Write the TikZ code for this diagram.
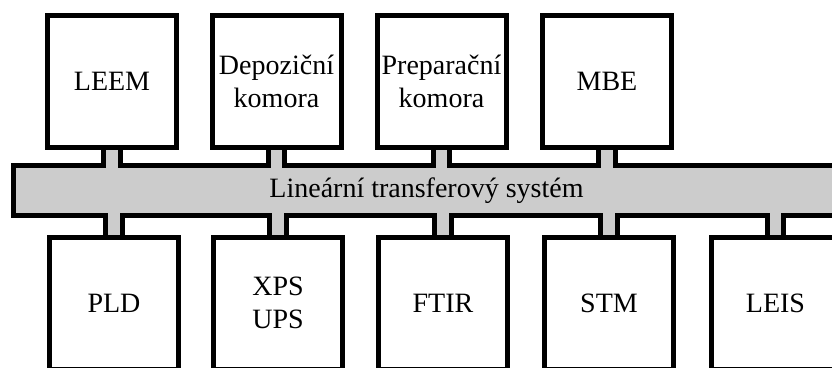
\documentclass[tikz,border=0pt]{standalone}
\usepackage{fontspec}
\setmainfont{Liberation Serif}
\begin{document}
\begin{tikzpicture}[x=1pt,y=-1pt, line width=5pt,
  every node/.style={font=\fontsize{28}{33}\selectfont, outer sep=0pt},
  chamber/.style={draw,fill=white,minimum width=129pt,minimum height=132pt,align=center,inner sep=1pt},
  rail/.style={draw,fill=railgray,minimum width=826pt,minimum height=50.5pt},
  stubfill/.style={fill=railgray,draw=none}]
\definecolor{railgray}{HTML}{CCCCCC}
\useasboundingbox (0,0) rectangle (832,367);
\clip (0,0) rectangle (832,367);
% transfer line
\node[rail] (lts) at (426.5,190.25) {Lineární transferový systém};
% upper chambers
\node[chamber] (leem) at (112,81.5) {LEEM};
\node[chamber] (depo) at (276.5,81.5) {Depoziční\\komora};
\node[chamber] (prep) at (441.5,81.5) {Preparační\\komora};
\node[chamber] (mbe) at (607,81.5) {MBE};
% lower chambers
\node[chamber] (pld) at (114,303) {PLD};
\node[chamber] (xps) at (278,303) {XPS\\UPS};
\node[chamber] (ftir) at (443,303) {FTIR};
\node[chamber] (stm) at (609,303) {STM};
\node[chamber] (leis) at (775.5,303) {LEIS};
% stubs to the transfer line
\foreach \ch in {leem,depo,prep,mbe} {
  \fill[stubfill] ([xshift=-6pt,yshift=-2.5pt]\ch.south) rectangle ([xshift=6pt,yshift=-2.5pt]\ch.south |- lts.north);
  \draw ([xshift=-8.2pt,yshift=-2.5pt]\ch.south) -- ([xshift=-8.2pt,yshift=-2.5pt]\ch.south |- lts.north);
  \draw ([xshift=8.2pt,yshift=-2.5pt]\ch.south) -- ([xshift=8.2pt,yshift=-2.5pt]\ch.south |- lts.north);
}
\foreach \ch in {pld,xps,ftir,stm,leis} {
  \fill[stubfill] ([xshift=-6pt,yshift=2.5pt]\ch.north) rectangle ([xshift=6pt,yshift=2.5pt]\ch.north |- lts.south);
  \draw ([xshift=-8.2pt,yshift=2.5pt]\ch.north) -- ([xshift=-8.2pt,yshift=2.5pt]\ch.north |- lts.south);
  \draw ([xshift=8.2pt,yshift=2.5pt]\ch.north) -- ([xshift=8.2pt,yshift=2.5pt]\ch.north |- lts.south);
}
\end{tikzpicture}
\end{document}
